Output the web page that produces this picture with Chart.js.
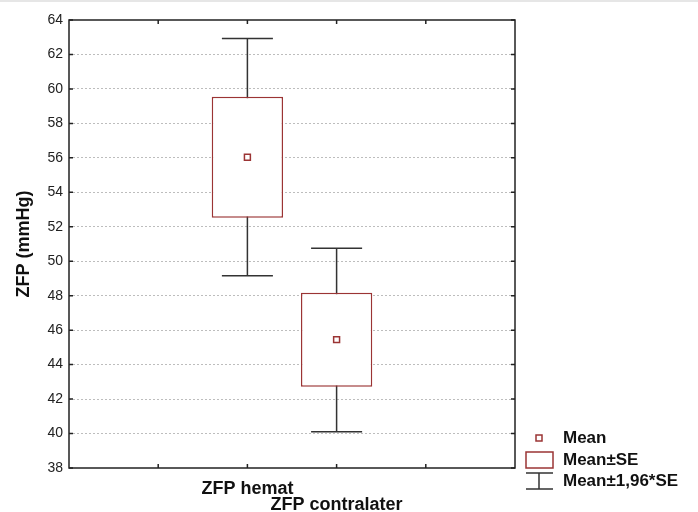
<!DOCTYPE html>
<html>
<head>
<meta charset="utf-8">
<script src="https://cdn.jsdelivr.net/npm/chart.js@4.4.1/dist/chart.umd.min.js"></script>
<style>
  html, body { margin: 0; padding: 0; background: #fff; }
  canvas { display: block; }
</style>
</head>
<body>
<canvas id="zfpChart" width="698" height="512"></canvas>
<script>
// values
const categories = ['ZFP hemat', 'ZFP contralater'];
const means = [56.04, 45.45];
const seLow = [52.53, 42.72];
const seHigh = [59.55, 48.17];
const ciLow = [49.16, 40.11];
const ciHigh = [62.92, 50.76];
const yMin = 38;
const yMax = 64;
const yStep = 2;
const legendLabels = ['Mean', 'Mean±SE', 'Mean±1,96*SE'];

const red = '#9b3434';
const dark = '#333333';
const fontFamily = "'Liberation Sans', Arial, sans-serif";
const capHalf = 0.286;

// categories sit on slots 2 and 3 of a 0..5 axis
const slot = i => i + 2;

const boxPlot = {
    id: 'boxPlot',
    beforeDraw(chart) {
        const ctx = chart.ctx;
        ctx.save();
        ctx.fillStyle = '#e6e6e6';
        ctx.fillRect(0, 0, chart.width, 2);
        ctx.restore();
    },
    beforeDatasetsDraw(chart) {
        const { ctx, scales: { x, y } } = chart;
        ctx.save();
        ctx.strokeStyle = dark;
        ctx.lineWidth = 1.5;
        categories.forEach((c, i) => {
            const px = x.getPixelForValue(slot(i));
            const half = x.getPixelForValue(slot(i) + capHalf) - px;
            const top = y.getPixelForValue(ciHigh[i]);
            const bot = y.getPixelForValue(ciLow[i]);
            ctx.beginPath();
            ctx.moveTo(px, top);
            ctx.lineTo(px, bot);
            ctx.moveTo(px - half, top);
            ctx.lineTo(px + half, top);
            ctx.moveTo(px - half, bot);
            ctx.lineTo(px + half, bot);
            ctx.stroke();
        });
        ctx.restore();
    },
    afterDraw(chart) {
        const { ctx, chartArea: a, scales: { x, y } } = chart;
        ctx.save();
        // frame
        ctx.strokeStyle = '#222';
        ctx.lineWidth = 1.5;
        ctx.strokeRect(a.left, a.top, a.right - a.left, a.bottom - a.top);
        // inward tick marks
        ctx.beginPath();
        y.ticks.forEach(t => {
            const py = y.getPixelForValue(t.value);
            ctx.moveTo(a.left, py);
            ctx.lineTo(a.left + 4, py);
            ctx.moveTo(a.right, py);
            ctx.lineTo(a.right - 4, py);
        });
        x.ticks.forEach(t => {
            if (t.value === x.min || t.value === x.max) return;
            const px = x.getPixelForValue(t.value);
            ctx.moveTo(px, a.top);
            ctx.lineTo(px, a.top + 4);
            ctx.moveTo(px, a.bottom);
            ctx.lineTo(px, a.bottom - 4);
        });
        ctx.stroke();

        // legend
        const lx = a.right + 24;
        const tx = a.right + 48;
        const rows = [a.bottom - 30, a.bottom - 8, a.bottom + 13];
        ctx.lineWidth = 1.5;
        ctx.strokeStyle = red;
        ctx.fillStyle = '#fff';
        ctx.fillRect(lx - 3, rows[0] - 3, 6, 6);
        ctx.strokeRect(lx - 3, rows[0] - 3, 6, 6);
        ctx.strokeRect(lx - 13, rows[1] - 8, 27, 16);
        ctx.strokeStyle = dark;
        ctx.beginPath();
        ctx.moveTo(lx - 13, rows[2] - 8);
        ctx.lineTo(lx + 14, rows[2] - 8);
        ctx.moveTo(lx, rows[2] - 8);
        ctx.lineTo(lx, rows[2] + 8);
        ctx.moveTo(lx - 13, rows[2] + 8);
        ctx.lineTo(lx + 14, rows[2] + 8);
        ctx.stroke();

        ctx.fillStyle = '#111';
        ctx.font = 'bold 17px ' + fontFamily;
        ctx.textBaseline = 'middle';
        ctx.textAlign = 'left';
        legendLabels.forEach((txt, i) => ctx.fillText(txt, tx, rows[i]));
        ctx.restore();
    }
};

const chart = new Chart(document.getElementById('zfpChart'), {
    type: 'bar',
    data: {
        datasets: [{
            type: 'scatter',
            label: legendLabels[0],
            data: means.map((m, i) => ({ x: slot(i), y: m })),
            pointStyle: 'rect',
            pointRadius: 4.2,
            borderColor: red,
            backgroundColor: '#fff',
            borderWidth: 1.5,
            order: 0
        },
        {
            type: 'bar',
            label: legendLabels[1],
            data: categories.map((c, i) => ({ x: slot(i), y: [seLow[i], seHigh[i]] })),
            backgroundColor: '#fff',
            borderColor: red,
            borderWidth: 1.5,
            borderSkipped: false,
            barPercentage: 0.8,
            categoryPercentage: 1,
            order: 1
        }]
    },
    options: {
        responsive: false,
        animation: false,
        layout: { padding: { top: 20, right: 183, left: 0, bottom: 0 } },
        plugins: {
            legend: { display: false },
            tooltip: { enabled: false }
        },
        scales: {
            x: {
                type: 'linear',
                min: 0,
                max: 5,
                offset: false,
                grid: { display: false },
                border: { display: false },
                ticks: {
                    stepSize: 1,
                    autoSkip: false,
                    maxRotation: 0,
                    minRotation: 0,
                    padding: 5,
                    color: '#111',
                    font: { family: fontFamily, size: 18, weight: 'bold', lineHeight: 0.9 },
                    callback: value => {
                        const i = value - 2;
                        if (i < 0 || i >= categories.length) return '';
                        const lines = categories.map(() => '');
                        lines[i] = categories[i];
                        return lines;
                    }
                },
                afterFit: s => { s.height = 44; }
            },
            y: {
                min: yMin,
                max: yMax,
                ticks: {
                    stepSize: yStep,
                    padding: 6,
                    color: '#222',
                    font: { family: fontFamily, size: 14 }
                },
                grid: {
                    drawTicks: false,
                    lineWidth: 1,
                    color: c => (c.tick && (c.tick.value === yMin || c.tick.value === yMax)) ? 'rgba(0,0,0,0)' : '#bdbdbd'
                },
                border: { display: false, dash: [2, 2] },
                title: {
                    display: true,
                    text: 'ZFP (mmHg)',
                    color: '#111',
                    font: { family: fontFamily, size: 18, weight: 'bold' },
                    padding: { top: 13, bottom: 0 }
                },
                afterFit: s => { s.width = 69; }
            }
        }
    },
    plugins: [boxPlot]
});
</script>
</body>
</html>
